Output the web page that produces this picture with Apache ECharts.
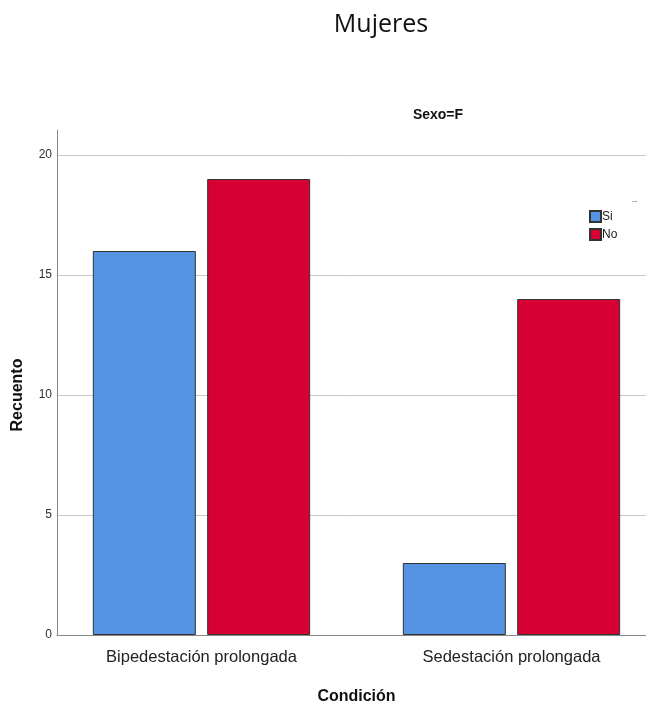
<!DOCTYPE html>
<html><head><meta charset="utf-8">
<script src="https://cdn.jsdelivr.net/npm/echarts@6/dist/echarts.min.js"></script>
<style>html,body{margin:0;padding:0;background:#fff}#c{width:646px;height:704px}</style>
</head><body><div id="c"></div>
<script>
const categories = ['Bipedestación prolongada', 'Sedestación prolongada'];
const seriesNames = ['Si', 'No'];
const valuesSi = [16, 3];
const valuesNo = [19, 14];
const yTicks = [0, 5, 10, 15, 20];

const chart = echarts.init(document.getElementById('c'));
const border = { borderColor: '#333333', borderWidth: 1 };
chart.setOption({
  animation: false,
  title: [
    { text: 'Mujeres', left: 376, top: 7, textAlign: 'center',
      textStyle: { fontFamily: 'Open Sans', fontWeight: 'normal', fontSize: 25, color: '#111' } },
    { text: 'Sexo=F', left: 433, top: 103, textAlign: 'center',
      textStyle: { fontFamily: 'Liberation Sans', fontWeight: 'bold', fontSize: 14, color: '#111' } },
    { text: '--', left: 627, top: 192,
      textStyle: { fontFamily: 'Liberation Sans', fontWeight: 'normal', fontSize: 8, color: '#555' } }
  ],
  legend: {
    orient: 'vertical', left: 589, top: 210, padding: 0, itemWidth: 11, itemHeight: 11, itemGap: 5,
    icon: 'rect', data: seriesNames,
    textStyle: { fontFamily: 'Liberation Sans', fontSize: 12, color: '#222', padding: [0,0,0,-4] }
  },
  grid: [
    { left: 57, right: 0, top: 130, bottom: 69, outerBoundsMode: 'none', containLabel: false },
    { left: 57, right: 0, top: 155, bottom: 69, outerBoundsMode: 'none', containLabel: false },
    { left: 46.5, width: 620, top: 155, bottom: 69, outerBoundsMode: 'none', containLabel: false }
  ],
  xAxis: [
    { gridIndex: 0, type: 'category', data: categories, axisLine: { lineStyle: { color: '#888', width: 1 } },
      axisTick: { show: false }, axisLabel: { show: false }, splitLine: { show: false },
      name: 'Condición', nameLocation: 'middle', nameGap: 54,
      nameTextStyle: { fontFamily: 'Liberation Sans', fontWeight: 'bold', fontSize: 16, color: '#111', padding: [0,0,0,10] } },
    { gridIndex: 1, type: 'category', data: categories, show: false },
    { gridIndex: 2, type: 'category', data: categories, axisLine: { show: false }, axisTick: { show: false },
      axisLabel: { fontFamily: 'Liberation Sans', fontSize: 16.5, color: '#222', margin: 14 } }
  ],
  yAxis: [
    { gridIndex: 0, type: 'value', min: 0, max: 21, axisLine: { show: true, lineStyle: { color: '#888', width: 1 } },
      axisTick: { show: false }, axisLabel: { show: false }, splitLine: { show: false } },
    { gridIndex: 1, type: 'value', min: yTicks[0], max: yTicks[yTicks.length - 1], interval: 5,
      axisLine: { show: false }, axisTick: { show: false },
      axisLabel: { fontFamily: 'Liberation Sans', fontSize: 12, color: '#333', margin: 5 },
      splitLine: { show: true, lineStyle: { color: '#c8c8c8', width: 1 } },
      name: 'Recuento', nameLocation: 'middle', nameGap: 31, nameRotate: 90,
      nameTextStyle: { fontFamily: 'Liberation Sans', fontWeight: 'bold', fontSize: 16, color: '#111' } },
    { gridIndex: 2, type: 'value', min: yTicks[0], max: yTicks[yTicks.length - 1], show: false }
  ],
  series: [
    { name: seriesNames[0], type: 'bar', xAxisIndex: 2, yAxisIndex: 2, data: valuesSi,
      barWidth: 103, barGap: '11%', itemStyle: Object.assign({ color: '#5594e2' }, border) },
    { name: seriesNames[1], type: 'bar', xAxisIndex: 2, yAxisIndex: 2, data: valuesNo,
      barWidth: 103, barGap: '11%', itemStyle: Object.assign({ color: '#d60032' }, border) }
  ]
});
</script></body></html>
